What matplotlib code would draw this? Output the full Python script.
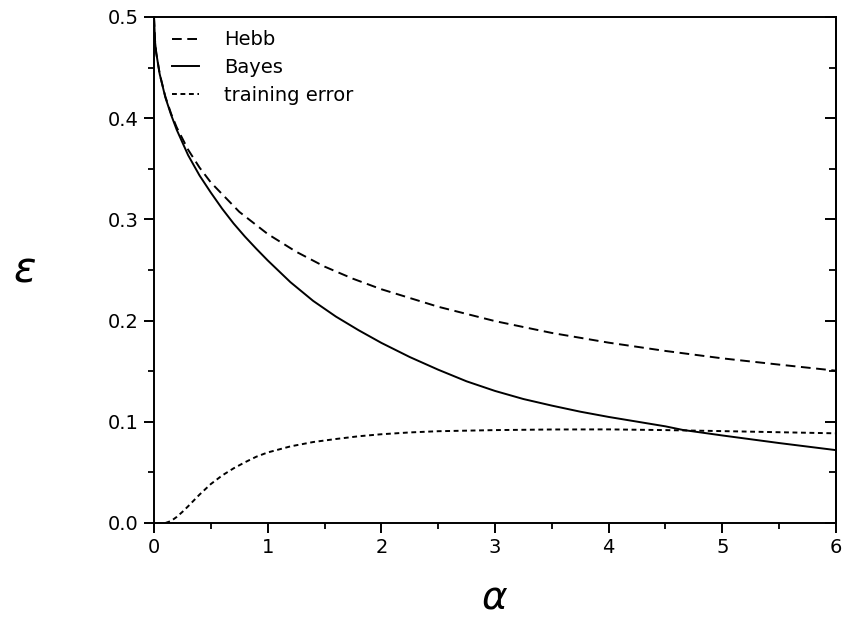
import matplotlib
matplotlib.use("Agg")
import matplotlib.pyplot as plt
from matplotlib.ticker import MultipleLocator

plt.rcParams['lines.scale_dashes'] = False
plt.rcParams['mathtext.fontset'] = 'dejavusans'

# Generalization error of the Hebb rule vs. number of examples per weight
alpha_hebb = [0.0, 0.01, 0.02, 0.05, 0.1, 0.15, 0.2, 0.3, 0.4, 0.5, 0.75, 1.0,
              1.25, 1.5, 1.75, 2.0, 2.5, 3.0, 3.5, 4.0, 4.5, 5.0, 5.5, 6.0]
eps_hebb = [0.5, 0.4746, 0.4643, 0.4438, 0.4213, 0.4046, 0.3909, 0.3689, 0.3513,
            0.3365, 0.3075, 0.2856, 0.2681, 0.2534, 0.2414, 0.2310, 0.2137,
            0.1995, 0.1878, 0.1782, 0.1700, 0.1627, 0.1565, 0.1505]

# Bayes-optimal generalization error
alpha_bayes = [0.0, 0.01, 0.02, 0.05, 0.1, 0.15, 0.2, 0.3, 0.4, 0.5, 0.6, 0.7,
               0.8, 0.9, 1.0, 1.2, 1.4, 1.6, 1.8, 2.0, 2.25, 2.5, 2.75, 3.0,
               3.25, 3.5, 3.75, 4.0, 4.5, 4.65, 5.0, 5.5, 6.0]
eps_bayes = [0.5, 0.4746, 0.4643, 0.4436, 0.4205, 0.4035, 0.3885, 0.3635, 0.3435,
             0.3265, 0.3105, 0.2960, 0.2830, 0.2710, 0.2595, 0.2380, 0.2195,
             0.2040, 0.1905, 0.1780, 0.1640, 0.1515, 0.1400, 0.1305, 0.1225,
             0.1160, 0.1100, 0.1048, 0.0955, 0.0920, 0.0865, 0.0790, 0.0720]

# Training error
alpha_train = [0.1, 0.15, 0.2, 0.25, 0.3, 0.4, 0.5, 0.6, 0.7, 0.8, 0.9, 1.0,
               1.2, 1.4, 1.6, 1.8, 2.0, 2.25, 2.5, 3.0, 3.5, 4.0, 4.5, 5.0,
               5.5, 6.0]
eps_train = [0.0, 0.002, 0.006, 0.011, 0.0165, 0.028, 0.0385, 0.047, 0.054,
             0.060, 0.0655, 0.0697, 0.0757, 0.0800, 0.0830, 0.0857, 0.0877,
             0.0895, 0.0907, 0.0918, 0.0924, 0.0925, 0.0918, 0.0908, 0.0897,
             0.0886]

x_ticks = [0, 1, 2, 3, 4, 5, 6]
y_ticks = [0.0, 0.1, 0.2, 0.3, 0.4, 0.5]
y_ticklabels = ['0.0', '0.1', '0.2', '0.3', '0.4', '0.5']

fig = plt.figure(figsize=(8.43, 6.19), dpi=100)
ax = fig.add_axes([154 / 843, 1 - 523 / 619, (836 - 154) / 843, (523 - 17) / 619])

lw = 1.4
ax.plot(alpha_hebb, eps_hebb, color='black', lw=lw, dashes=(7, 4), label='Hebb')
ax.plot(alpha_bayes, eps_bayes, color='black', lw=lw, label='Bayes')
ax.plot(alpha_train, eps_train, color='black', lw=lw, dashes=(3.5, 2.6),
        label='training error')

ax.set_xlim(0, 6)
ax.set_ylim(0, 0.5)
ax.set_xticks(x_ticks)
ax.set_yticks(y_ticks)
ax.set_yticklabels(y_ticklabels)
ax.xaxis.set_minor_locator(MultipleLocator(0.5))
ax.yaxis.set_minor_locator(MultipleLocator(0.05))

for s in ax.spines.values():
    s.set_linewidth(1.4)

ax.tick_params(axis='both', which='major', direction='out', length=7, width=1.4,
               labelsize=14, pad=4, right=False, top=False)
ax.tick_params(axis='both', which='minor', direction='out', length=4, width=1.3,
               right=False, top=False)

# inward ticks along the right edge
sec = ax.secondary_yaxis('right')
sec.set_yticks(y_ticks)
sec.yaxis.set_minor_locator(MultipleLocator(0.05))
sec.tick_params(axis='y', which='major', direction='in', length=8, width=1.4,
                labelright=False)
sec.tick_params(axis='y', which='minor', direction='in', length=5, width=1.3)
sec.spines['right'].set_linewidth(1.4)

ax.text(-0.19, 0.5, r'$\varepsilon$', transform=ax.transAxes, fontsize=30,
        ha='center', va='center')
ax.text(0.5, -0.148, r'$\alpha$', transform=ax.transAxes, fontsize=28,
        ha='center', va='center')

leg = ax.legend(loc='upper left', frameon=False, fontsize=14, handlelength=1.4,
                handletextpad=1.3, labelspacing=0.45,
                bbox_to_anchor=(0.0, 1.008))

fig.savefig('out.png', dpi=100)
